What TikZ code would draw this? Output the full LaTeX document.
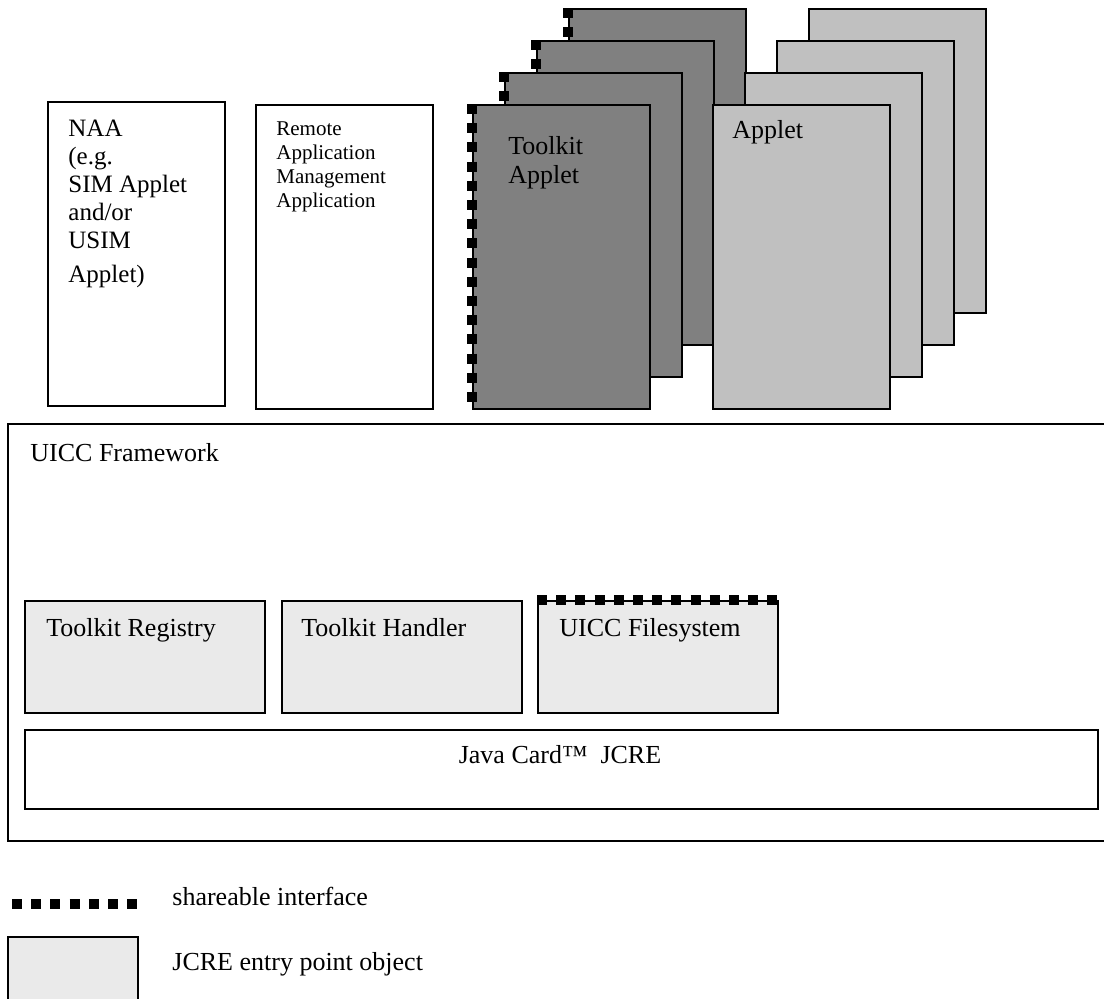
\documentclass[tikz,border=0pt]{standalone}
\usepackage{fontspec}
\setmainfont{Liberation Serif}
\definecolor{tkgray}{RGB}{128,128,128}
\definecolor{apgray}{RGB}{192,192,192}
\definecolor{entrygray}{RGB}{234,234,234}
\newcommand{\mylines}[1]{\begin{tabular}[t]{@{}l@{}}#1\end{tabular}}
\tikzset{
  box/.style={draw=black, line width=0.8pt, anchor=north west, inner sep=0pt,
              minimum width=88.5pt, minimum height=152pt},
  tkbox/.style={box, fill=tkgray},
  apbox/.style={box, fill=apgray},
  entrybox/.style={draw=black, line width=0.8pt, fill=entrygray, anchor=north west,
              inner sep=0pt, minimum width=120pt, minimum height=56pt},
  share/.style={line width=5pt, dash pattern=on 5pt off 4.6pt, line cap=butt},
  lbl/.style={anchor=base west, inner sep=0pt, font=\fontsize{13pt}{14.5pt}\selectfont},
  frame/.style={line width=0.8pt, line cap=rect},
}
\begin{document}
\begin{tikzpicture}[x=0.5pt, y=-0.5pt]
\useasboundingbox (0,0) rectangle (1104,998);

% NAA and Remote Application Management Application
\node[box, fill=white] (naa) at (47,101) {};
\node[lbl, font=\fontsize{12.5pt}{14pt}\selectfont] (naat) at (68,136)
  {\mylines{NAA\\(e.g.\\SIM Applet\\and/or\\USIM\\[3pt]Applet)}};
\node[box, fill=white] (ram) at (255,104) {};
\node[lbl, font=\fontsize{10.5pt}{12pt}\selectfont] (ramt) at (276,135)
  {\mylines{Remote\\Application\\Management\\Application}};

% Toolkit applets (back to front)
\node[tkbox] (tk4) at (568,8) {};
\draw[share] (tk4.north west) -- (tk4.south west);
\node[tkbox] (tk3) at (536,40) {};
\draw[share] (tk3.north west) -- (tk3.south west);
\node[tkbox] (tk2) at (504,72) {};
\draw[share] (tk2.north west) -- (tk2.south west);
\node[tkbox] (tk1) at (472,104) {};
\draw[share] (tk1.north west) -- (tk1.south west);
\node[lbl] (tkt) at (508,154) {\mylines{Toolkit\\Applet}};

% Applets (back to front)
\node[apbox] (ap4) at (808,8) {};
\node[apbox] (ap3) at (776,40) {};
\node[apbox] (ap2) at (744,72) {};
\node[apbox] (ap1) at (712,104) {};
\node[lbl] (apt) at (732,138) {Applet};

% UICC Framework
\node[anchor=north west, inner sep=0pt, minimum width=548pt, minimum height=208pt] (fw) at (8,424) {};
\draw[frame] (fw.north east) -- (fw.north west) -- (fw.south west) -- (fw.south east);
\node[lbl] (fwt) at (30,461) {UICC Framework};

\node[entrybox] (reg) at (24,600) {};
\node[lbl] (regt) at (46,636) {Toolkit Registry};
\node[entrybox] (hdl) at (281,600) {};
\node[lbl] (hdlt) at (301,636) {Toolkit Handler};
\node[entrybox] (fs) at (537,600) {};
\draw[share] (fs.north west) -- (fs.north east);
\node[lbl] (fst) at (559,636) {UICC Filesystem};

\node[draw=black, line width=0.8pt, fill=white, anchor=north west, inner sep=0pt,
      minimum width=536.5pt, minimum height=39.5pt] (jcre) at (24,729) {};
\node[lbl, anchor=base] (jcret) at (560,763) {Java Card™\ \ JCRE};

% Legend
\coordinate (ls) at (12,904);
\coordinate (le) at (137,904);
\draw[share] (ls) -- (le);
\node[lbl] (lst) at (172,905) {shareable interface};
\node[anchor=north west, inner sep=0pt, fill=entrygray, minimum width=64.5pt, minimum height=31pt] (lgbox) at (8,937) {};
\draw[line width=0.8pt] (lgbox.south west) -- (lgbox.north west) -- (lgbox.north east) -- (lgbox.south east);
\node[lbl] (lgt) at (172,970) {JCRE entry point object};
\end{tikzpicture}
\end{document}
